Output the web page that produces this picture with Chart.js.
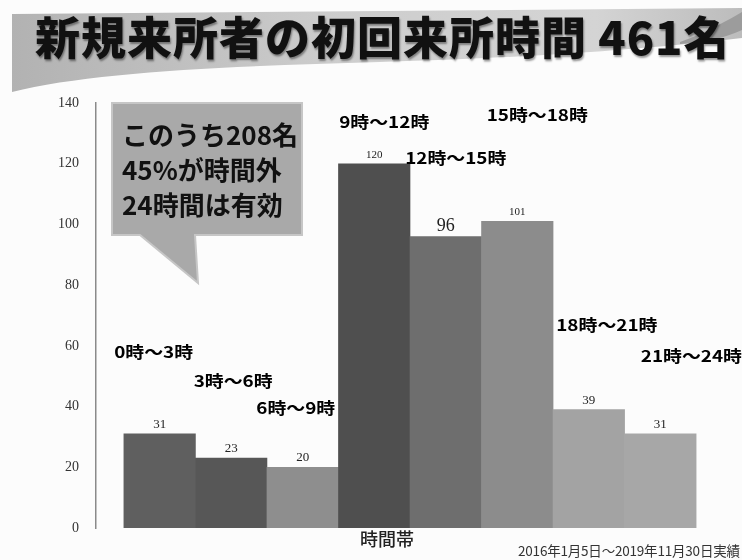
<!DOCTYPE html>
<html lang="ja">
<head>
<meta charset="utf-8">
<title>新規来所者の初回来所時間</title>
<script src="https://cdn.jsdelivr.net/npm/chart.js@4.4.1/dist/chart.umd.min.js"></script>
<style>
  html, body { margin: 0; padding: 0; background: #fff; }
  #wrap { position: relative; width: 742px; height: 560px; overflow: hidden; background: #fcfcfc; font-family: "Noto Sans CJK JP", sans-serif; }
  #shapes, #chart { position: absolute; left: 0; top: 0; }
  #title { position: absolute; left: 35px; top: 10px; font-size: 45px; font-weight: 900; line-height: 52px; letter-spacing: 1px; color: #111; white-space: nowrap; text-shadow: 1px 2px 2px rgba(0,0,0,0.4); }
  #calloutText { position: absolute; left: 122px; top: 116px; font-size: 26px; font-weight: bold; line-height: 35px; color: #111; white-space: nowrap; }
  #xTitle { position: absolute; left: 360px; top: 525px; font-size: 18px; font-weight: 500; color: #222; }
  #note { position: absolute; left: 518px; top: 540px; font-size: 13.5px; color: #333; white-space: nowrap; letter-spacing: -0.2px; }
</style>
</head>
<body>
<div id="wrap">
  <svg id="shapes" width="742" height="560">
    <defs>
      <linearGradient id="band" x1="0" y1="0" x2="1" y2="0">
        <stop offset="0" stop-color="#b2b2b2"/>
        <stop offset="0.45" stop-color="#cdcdcd"/>
        <stop offset="0.8" stop-color="#d4d4d4"/>
        <stop offset="1" stop-color="#bcbcbc"/>
      </linearGradient>
    </defs>
    <path d="M12,14 L742,8 L742,38 C640,50 520,58 380,62 C230,66 90,72 12,92 Z" fill="url(#band)"/>
    <path d="M680,42 C708,32 728,20 742,12 L742,30 C725,38 705,42 680,44 Z" fill="#9c9c9c"/>
    <path d="M112,103 L302,103 L302,235 L195,235 L198,283 L140,235 L112,235 Z" fill="#a9a9a9" stroke="#c6c6c6" stroke-width="2"/>
  </svg>
  <canvas id="chart" width="742" height="560"></canvas>
  <div id="title">新規来所者の初回来所時間 461名</div>
  <div id="calloutText">このうち208名<br>45%が時間外<br>24時間は有効</div>
  <div id="xTitle">時間帯</div>
  <div id="note">2016年1月5日～2019年11月30日実績</div>
</div>
<script>
const timeBands = ['0時～3時', '3時～6時', '6時～9時', '9時～12時', '12時～15時', '15時～18時', '18時～21時', '21時～24時'];
const visitors = [31, 23, 20, 120, 96, 101, 39, 31];
const yMin = 0;
const yMax = 140;
const yStep = 20;

const barShades = ['#5f5f5f', '#575757', '#8e8e8e', '#4f4f4f', '#6e6e6e', '#8c8c8c', '#a3a3a3', '#a7a7a7'];
// where each time band name sits: pixel shift from the bar centre, height in axis units
const bandLabelSpots = [[-6, 58], [2, 48.4], [-7, 39.5], [10, 133.7], [10, 121.9], [20, 136], [18, 66.9], [31, 56.7]];
const valueFontSizes = [13, 13, 13, 11, 18, 11, 13, 13];

const labelPlugin = {
    id: 'barLabels',
    afterDatasetsDraw(chart) {
        const ctx = chart.ctx;
        const meta = chart.getDatasetMeta(0);
        const yScale = chart.scales.y;
        ctx.save();
        ctx.textAlign = 'center';
        ctx.textBaseline = 'alphabetic';
        ctx.fillStyle = '#222';
        meta.data.forEach((bar, i) => {
            ctx.font = valueFontSizes[i] + 'px "Liberation Serif", serif';
            ctx.fillText(String(visitors[i]), bar.x, bar.y - 6);
        });

        ctx.fillStyle = '#000';
        ctx.font = 'bold 16px "Noto Sans CJK JP", sans-serif';
        ctx.textBaseline = 'middle';
        meta.data.forEach((bar, i) => {
            const [dx, v] = bandLabelSpots[i];
            ctx.save();
            ctx.translate(bar.x + dx, yScale.getPixelForValue(v));
            ctx.scale(1.18, 1);
            ctx.fillText(timeBands[i], 0, 0);
            ctx.restore();
        });
        ctx.restore();
    }
};

new Chart(document.getElementById('chart'), {
    type: 'bar',
    data: {
        datasets: [{
            data: visitors.map((v, i) => ({ x: i, y: v })),
            backgroundColor: barShades,
            borderWidth: 0,
            barPercentage: 1,
            categoryPercentage: 1
        }]
    },
    options: {
        responsive: false,
        animation: false,
        layout: { padding: { left: 56, top: 103, right: 18, bottom: 32 } },
        plugins: {
            legend: { display: false },
            tooltip: { enabled: false }
        },
        scales: {
            x: {
                type: 'linear',
                display: false,
                offset: false,
                min: -0.89,
                max: 7.89,
                // one tick per bar, so the bar width is the full slot
                afterBuildTicks(axis) { axis.ticks = visitors.map((_, i) => ({ value: i })); }
            },
            y: {
                min: yMin,
                max: yMax,
                ticks: {
                    stepSize: yStep,
                    padding: 17,
                    color: '#333',
                    font: { family: '"Liberation Serif", serif', size: 14 }
                },
                grid: { display: false, drawTicks: false },
                border: { color: '#8a8a8a', width: 1.5 },
                afterFit(axis) { axis.width = 40; }
            }
        }
    },
    plugins: [labelPlugin]
});
</script>
</body>
</html>
